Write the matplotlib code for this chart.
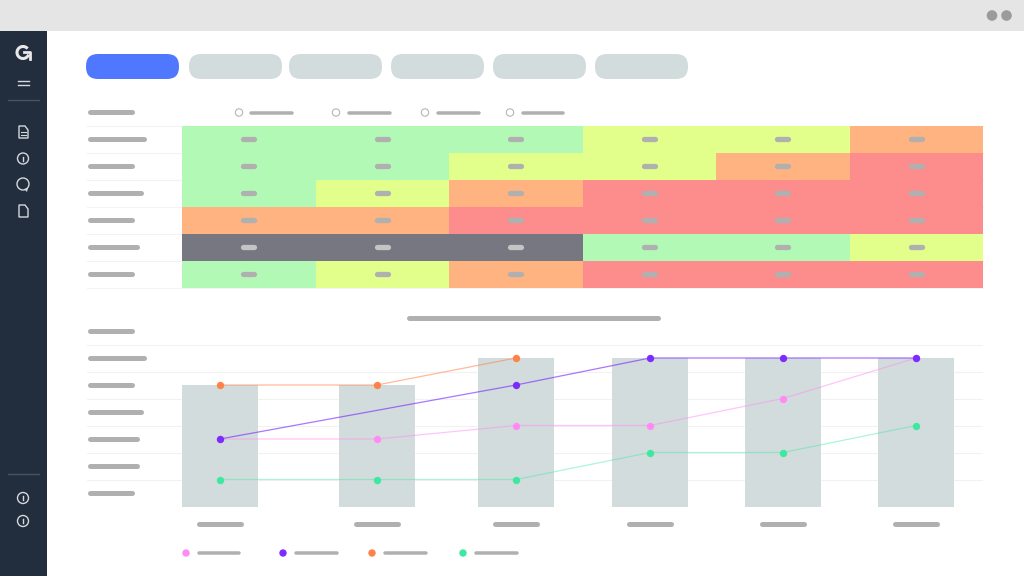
import numpy as np
import matplotlib
matplotlib.use("Agg")
import matplotlib.pyplot as plt
from matplotlib.colors import ListedColormap
from matplotlib.patches import Circle, FancyBboxPatch, Polygon, Rectangle, Arc

# 0 green, 1 yellow, 2 orange, 3 red, 4 dark
heat = [
    [0, 0, 0, 1, 1, 2],
    [0, 0, 1, 1, 2, 3],
    [0, 1, 2, 3, 3, 3],
    [2, 2, 3, 3, 3, 3],
    [4, 4, 4, 0, 0, 1],
    [0, 1, 2, 3, 3, 3],
]
heat_colors = ["#b3f9b6", "#e2ff8c", "#ffb380", "#fd8c8c", "#777781"]

# chart values (one band = 1)
categories = [220, 377, 516, 650, 783, 916]
bars = [4.5, 4.5, 5.5, 5.5, 5.5, 5.5]
pink = [2.5, 2.5, 3, 3, 4, 5.5]
purple = [2.5, np.nan, 4.5, 5.5, 5.5, 5.5]
orange = [4.5, 4.5, 5.5, np.nan, np.nan, np.nan]
green = [1, 1, 1, 2, 2, 3]

W, H = 1024, 576
GREY = "#b0b0b0"
ICON = "#d5d8dc"

fig = plt.figure(figsize=(W / 100, H / 100), dpi=100, facecolor="white")


def px_axes(x0, y0, x1, y1, z):
    a = fig.add_axes([x0 / W, 1 - y1 / H, (x1 - x0) / W, (y1 - y0) / H], zorder=z)
    a.patch.set_alpha(0)
    return a


def dash(a, x0, x1, y, h=5, c=GREY):
    # placeholder text bar
    a.plot([x0 + h / 2 - 0.5, x1 - h / 2 - 0.5], [y, y], color=c, lw=h * 0.72,
           solid_capstyle="round", zorder=5)


bg = px_axes(0, 0, W, H, 0)
bg.set_xlim(0, W)
bg.set_ylim(H, 0)
bg.axis("off")

# window chrome
bg.add_patch(Rectangle((0, 0), W, 31, color="#e5e5e5", lw=0))
bg.add_patch(Rectangle((0, 31), 46.5, H - 31, color="#222d3d", lw=0))
bg.add_patch(Circle((992, 15.5), 5.3, color="#9b9b9b", lw=0))
bg.add_patch(Circle((1006.5, 15.5), 5.3, color="#9b9b9b", lw=0))

# sidebar
bg.add_patch(Arc((23, 52.5), 12, 12, theta1=20, theta2=320, color="#e8e8e8", lw=2.2))
bg.plot([24, 30, 30], [52, 52, 58.5], color="#e8e8e8", lw=2)
for y in [81, 84.5]:
    bg.plot([18, 29], [y, y], color=ICON, lw=1)
for y in [100, 474]:
    bg.plot([8, 39], [y, y], color="#4a5360", lw=1)
for y in [158.5, 498, 521]:
    bg.add_patch(Circle((23, y), 5.5, fill=False, ec=ICON, lw=1))
    bg.plot([23, 23], [y - 2, y + 2], color=ICON, lw=1)
bg.add_patch(Polygon([(19, 126), (25, 126), (28, 130), (28, 138), (19, 138)],
                     fill=False, ec=ICON, lw=1))
for y in [132, 135]:
    bg.plot([21, 26], [y, y], color=ICON, lw=0.8)
bg.add_patch(Circle((23, 184), 6, fill=False, ec=ICON, lw=1))
bg.add_patch(Polygon([(24, 189), (28, 188), (27, 192)], color=ICON, lw=0))
bg.add_patch(Polygon([(19, 205), (25, 205), (28, 209), (28, 217), (19, 217)],
                     fill=False, ec=ICON, lw=1))

# tabs
tab_left = [86, 189, 289, 391, 493, 595]
for i, x in enumerate(tab_left):
    bg.add_patch(FancyBboxPatch((x + 12, 54 + 12), 69, 1, boxstyle="round,pad=12.0",
                                color="#4f78ff" if i == 0 else "#d2dcdc", lw=0))

# heat table header
dash(bg, 88, 135, 112)
for cx, x0, x1 in [(239, 249, 294), (336, 347, 392), (425, 436, 481), (510, 521, 565)]:
    bg.add_patch(Circle((cx, 112.5), 3.7, fill=False, ec="#b5b5b5", lw=0.8))
    dash(bg, x0 + 0.5, x1 + 0.5, 112.5, h=3.5)

# row and axis labels
for y, x1 in zip([139, 166, 193, 220, 247, 274], [147, 135, 144, 135, 140, 135]):
    dash(bg, 88, x1, y)
for y, x1 in zip([331, 358, 385, 412, 439, 466, 493], [135, 147, 135, 144, 140, 140, 135]):
    dash(bg, 88, x1, y)
for y in [126, 153, 180, 207, 234, 261, 288]:
    bg.plot([87, 983], [y, y], color="#f3f3f3", lw=0.8)
dash(bg, 407, 661, 318)

# heat table
ax = px_axes(182, 126, 983, 288, 1)
ax.pcolormesh(np.array(heat), cmap=ListedColormap(heat_colors), vmin=-0.5, vmax=4.5)
for r, row in enumerate(heat):
    for c, v in enumerate(row):
        ax.plot([c + 0.46, c + 0.54], [r + 0.48, r + 0.48], lw=3.8, solid_capstyle="round",
                color="#c4c4c4" if v == 4 else "#b0b0b0")
ax.set_xlim(0, 6)
ax.set_ylim(6, 0)
ax.axis("off")

# bar and line chart
ax2 = px_axes(87, 344.5, 983, 506.5, 2)
ax2.set_xlim(87, 983)
ax2.set_ylim(0, 6)
ax2.set_yticks(range(7))
ax2.grid(axis="y", color="#f2f2f2", lw=0.8)
ax2.set_axisbelow(True)
ax2.tick_params(left=False, bottom=False, labelleft=False, labelbottom=False)
for s in ax2.spines.values():
    s.set_visible(False)
ax2.bar(categories, bars, width=76, color="#d2dcdc")

xs = np.array(categories)
for vals, col, alpha in [(pink, "#ff8cf5", 0.5), (purple, "#7b2dff", 0.65),
                         (orange, "#ff8248", 0.55), (green, "#3de8a0", 0.42)]:
    vals = np.array(vals, dtype=float)
    ok = ~np.isnan(vals)
    ax2.plot(xs[ok], vals[ok], color=col, lw=0.9, alpha=alpha, zorder=3)
    ax2.plot(xs[ok], vals[ok], "o", color=col, ms=5.3, mew=0, zorder=4, clip_on=False)

# x labels
for x in categories:
    dash(bg, x - 23.5, x + 23.5, 524)

# bottom legend
for cx, x0, x1, col in [(186, 197, 241, "#ff8cf5"), (283, 294, 339, "#7b2dff"),
                        (372, 383, 428, "#ff8248"), (463, 474, 519, "#3de8a0")]:
    bg.add_patch(Circle((cx, 553), 3.7, color=col, lw=0))
    dash(bg, x0 + 0.5, x1 + 0.5, 553, h=3.5)

fig.savefig("out.png", dpi=100)
